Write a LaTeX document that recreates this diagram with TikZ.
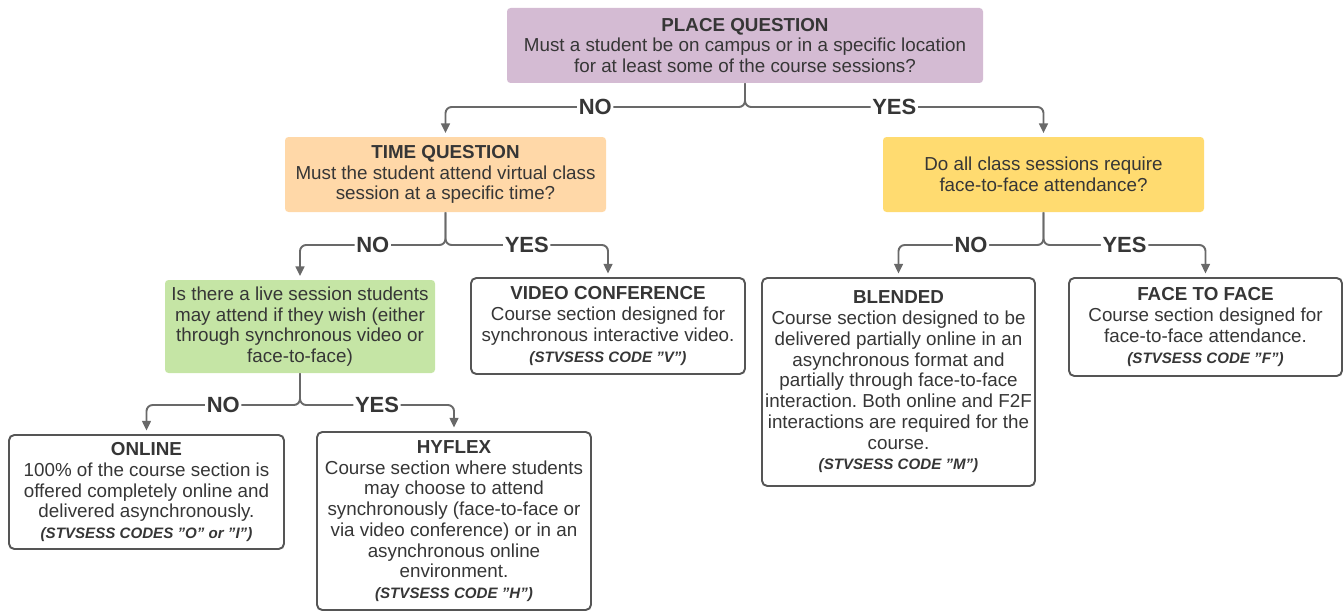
\documentclass[tikz,border=0pt]{standalone}
\usepackage{fontspec}
\setmainfont{Liberation Sans}
\usetikzlibrary{arrows.meta}
\frenchspacing

\definecolor{placecol}{RGB}{212,187,211}
\definecolor{timecol}{RGB}{255,216,168}
\definecolor{facecol}{RGB}{255,219,112}
\definecolor{livecol}{RGB}{197,229,165}
\definecolor{inkcol}{RGB}{54,54,54}
\definecolor{edgecol}{RGB}{85,85,85}
\definecolor{linkcol}{RGB}{105,105,105}

\newcommand{\stvcode}[1]{{\fontsize{8.6}{12.4}\selectfont\bfseries\itshape #1}}
\newcommand{\dq}{\symbol{34}}

\begin{document}
\begin{tikzpicture}[font=\fontsize{10.7}{11.8}\selectfont, text=inkcol]
  % Define styles
  \tikzstyle{quest} = [rectangle, rounded corners=2pt, align=center, inner sep=0pt]
  \tikzstyle{mode} = [rectangle, draw=edgecol, line width=1.1pt, fill=white, rounded corners=3pt, align=center, inner sep=0pt]
  \tikzstyle{link} = [draw=linkcol, line width=1.1pt, rounded corners=3.5pt, -{Triangle[length=5.5pt, width=5pt]}, shorten >=2pt]
  \tikzstyle{lbl} = [fill=white, inner sep=1pt, font=\fontsize{12.5}{14}\selectfont\bfseries]

  \useasboundingbox (0,0) rectangle (26.88,-12.24);

  % Questions
  \node[quest, fill=placecol, minimum width=9.52cm, minimum height=1.5cm] (place) at (14.90,-0.91)
    {\textbf{PLACE QUESTION}\\Must a student be on campus or in a specific location\\for at least some of the course sessions?};
  \node[quest, fill=timecol, minimum width=6.42cm, minimum height=1.5cm] (timeq) at (8.91,-3.49)
    {\textbf{TIME QUESTION}\\Must the student attend virtual class\\session at a specific time?};
  \node[quest, fill=facecol, minimum width=6.42cm, minimum height=1.5cm] (faceq) at (20.87,-3.49)
    {Do all class sessions require\\face-to-face attendance?};
  \node[quest, fill=livecol, minimum width=5.40cm, minimum height=1.86cm] (live) at (6.00,-6.53)
    {Is there a live session students\\may attend if they wish (either\\through synchronous video or\\face-to-face)};

  % Delivery modes
  \node[mode, minimum width=5.48cm, minimum height=1.92cm] (video) at (12.16,-6.52)
    {\textbf{VIDEO CONFERENCE}\\Course section designed for\\synchronous interactive video.\\\stvcode{(STVSESS CODE \dq V\dq)}};
  \node[mode, minimum width=5.46cm, minimum height=4.16cm] (blended) at (17.97,-7.64)
    {\textbf{BLENDED}\\Course section designed to be\\delivered partially online in an\\asynchronous format and\\partially through face-to-face\\interaction. Both online and F2F\\interactions are required for the\\course.\\\stvcode{(STVSESS CODE \dq M\dq)}};
  \node[mode, minimum width=5.46cm, minimum height=1.96cm] (ftf) at (24.11,-6.54)
    {\textbf{FACE TO FACE}\\Course section designed for\\face-to-face attendance.\\\stvcode{(STVSESS CODE \dq F\dq)}};
  \node[mode, minimum width=5.50cm, minimum height=2.28cm] (online) at (2.93,-9.84)
    {\textbf{ONLINE}\\100\% of the course section is\\offered completely online and\\delivered asynchronously.\\\stvcode{(STVSESS CODES \dq O\dq{} or \dq I\dq)}};
  \node[mode, minimum width=5.48cm, minimum height=3.56cm] (hyflex) at (9.08,-10.42)
    {\textbf{HYFLEX}\\Course section where students\\may choose to attend\\synchronously (face-to-face or\\via video conference) or in an\\asynchronous online\\environment.\\\stvcode{(STVSESS CODE \dq H\dq)}};

  % Branch points
  \coordinate (jplace) at (14.90,-2.14);
  \coordinate (jtime) at (8.91,-4.90);
  \coordinate (jface) at (20.87,-4.90);
  \coordinate (jlive) at (6.00,-8.10);

  % Connections
  \draw[link] (place.south) -- (jplace) -| node[lbl, pos=0.25] {NO} (timeq.north);
  \draw[link] (place.south) -- (jplace) -| node[lbl, pos=0.25] {YES} (faceq.north);
  \draw[link] (timeq.south) -- (jtime) -| node[lbl, pos=0.25] {NO} (live.north);
  \draw[link] (timeq.south) -- (jtime) -| node[lbl, pos=0.25] {YES} (video.north);
  \draw[link] (faceq.south) -- (jface) -| node[lbl, pos=0.25] {NO} (blended.north);
  \draw[link] (faceq.south) -- (jface) -| node[lbl, pos=0.25] {YES} (ftf.north);
  \draw[link] (live.south) -- (jlive) -| node[lbl, pos=0.25] {NO} (online.north);
  \draw[link] (live.south) -- (jlive) -| node[lbl, pos=0.25] {YES} (hyflex.north);

\end{tikzpicture}
\end{document}
